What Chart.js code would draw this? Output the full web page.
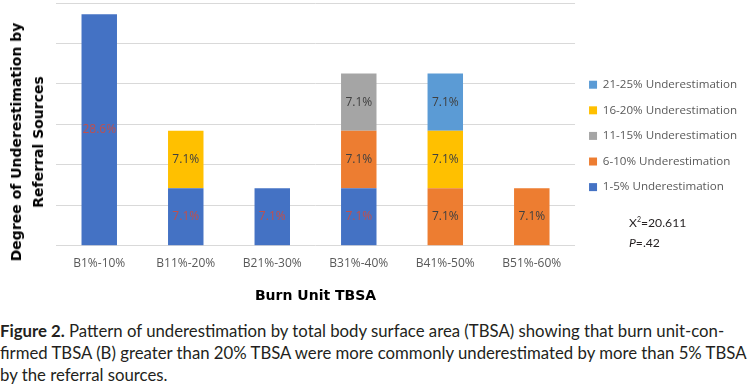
<!DOCTYPE html>
<html>
<head>
<meta charset="utf-8">
<script src="https://cdn.jsdelivr.net/npm/chart.js@4/dist/chart.umd.min.js"></script>
<style>
  html, body { margin: 0; padding: 0; background: #fff; }
  body { width: 751px; height: 392px; position: relative; overflow: hidden; }
  #wrap { position: absolute; left: 0; top: 0; width: 751px; height: 310px; }
  #ytitle { position: absolute; left: 27px; top: 142px; transform: translate(-50%, -50%) rotate(-90deg);
    font: bold 14px "DejaVu Sans"; color: #000; text-align: center; line-height: 22px; white-space: nowrap; }
  #stats { position: absolute; left: 629px; top: 209px; font: 12.2px Lato; color: #231f20; line-height: 20px; }
  #caption { position: absolute; left: 0; top: 320px; width: 800px; font-family: Lato; font-size: 16px; color: #231f20; line-height: 22px; white-space: nowrap; }
  #caption span { display: block; height: 22px; }
</style>
</head>
<body>
<div id="wrap"><canvas id="c"></canvas></div>
<div id="ytitle">Degree of Underestimation by<br>Referral Sources</div>
<div id="stats">X<sup style="font-size:7px">2</sup>=20.611<br><i>P</i>=.42</div>
<div id="caption"><span id="l1"><b>Figure 2.</b> Pattern of underestimation by total body surface area (TBSA) showing that burn unit-con-</span><span id="l2">firmed TBSA (B) greater than 20% TBSA were more commonly underestimated by more than 5% TBSA</span><span id="l3">by the referral sources.</span></div>
<script>
const categories = ["B1%-10%", "B11%-20%", "B21%-30%", "B31%-40%", "B41%-50%", "B51%-60%"];
const seriesNames = ["1-5% Underestimation", "6-10% Underestimation", "11-15% Underestimation", "16-20% Underestimation", "21-25% Underestimation"];
const under1to5   = [28.6, 7.1, 7.1, 7.1, 0, 0];
const under6to10  = [0, 0, 0, 7.1, 7.1, 7.1];
const under11to15 = [0, 0, 0, 7.1, 0, 0];
const under16to20 = [0, 7.1, 0, 0, 7.1, 0];
const under21to25 = [0, 0, 0, 0, 7.1, 0];
const seriesColors = ["#4472C4", "#ED7D31", "#A5A5A5", "#FFC000", "#5B9BD5"];
const labelColors  = ["#C0504D", "#404040", "#404040", "#404040", "#404040"];

const allSeries = [under1to5, under6to10, under11to15, under16to20, under21to25];

// fit caption line 2 to the reference width
(function fitCaption() {
  const l2 = document.getElementById('l2');
  const r = document.createRange(); r.selectNodeContents(l2);
  const w = r.getBoundingClientRect().width;
  if (w > 0) {
    const fs = 16 * 747 / w;
    document.getElementById('caption').style.fontSize = fs.toFixed(2) + 'px';
  }
})();

const dataLabelPlugin = {
  id: 'dataLabels',
  afterDatasetsDraw(chart) {
    const ctx = chart.ctx;
    ctx.save();
    ctx.font = '12px "Open Sans"';
    ctx.textAlign = 'center';
    ctx.textBaseline = 'middle';
    chart.data.datasets.forEach((ds, i) => {
      const meta = chart.getDatasetMeta(i);
      meta.data.forEach((bar, j) => {
        const v = ds.data[j];
        if (!v) return;
        const cy = (bar.y + bar.base) / 2;
        ctx.fillStyle = labelColors[i];
        ctx.fillText(v.toFixed(1) + '%', bar.x, cy);
      });
    });
    ctx.restore();
  }
};

new Chart(document.getElementById('c'), {
  type: 'bar',
  data: {
    labels: categories,
    datasets: allSeries.map((d, i) => ({
      label: seriesNames[i],
      data: d,
      backgroundColor: seriesColors[i],
      barPercentage: 0.82,
      categoryPercentage: 0.5
    }))
  },
  options: {
    responsive: true,
    maintainAspectRatio: false,
    animation: false,
    layout: { padding: { left: 56, right: 4, top: 3, bottom: 5 } },
    plugins: {
      legend: {
        position: 'right',
        reverse: true,
        align: 'start',
        title: { display: true, text: '', padding: { top: 48, bottom: 0 }, font: { size: 11.6 } },
        labels: {
          boxWidth: 8, boxHeight: 8, padding: 14,
          color: '#595959', font: { family: '"Open Sans"', size: 11.6 }
        }
      },
      tooltip: { enabled: false }
    },
    scales: {
      x: {
        stacked: true,
        grid: { display: false },
        border: { display: false },
        ticks: { color: '#595959', font: { family: '"Open Sans"', size: 12 }, padding: 3 },
        title: { display: true, text: 'Burn Unit TBSA', color: '#000', font: { family: '"DejaVu Sans"', size: 14, weight: 'bold' }, padding: { top: 14, bottom: 0 } }
      },
      y: {
        stacked: true,
        min: 0, max: 30,
        ticks: { display: false, stepSize: 5 },
        grid: { color: '#D9D9D9', drawTicks: false },
        border: { display: false }
      }
    }
  },
  plugins: [dataLabelPlugin]
});
</script>
</body>
</html>
